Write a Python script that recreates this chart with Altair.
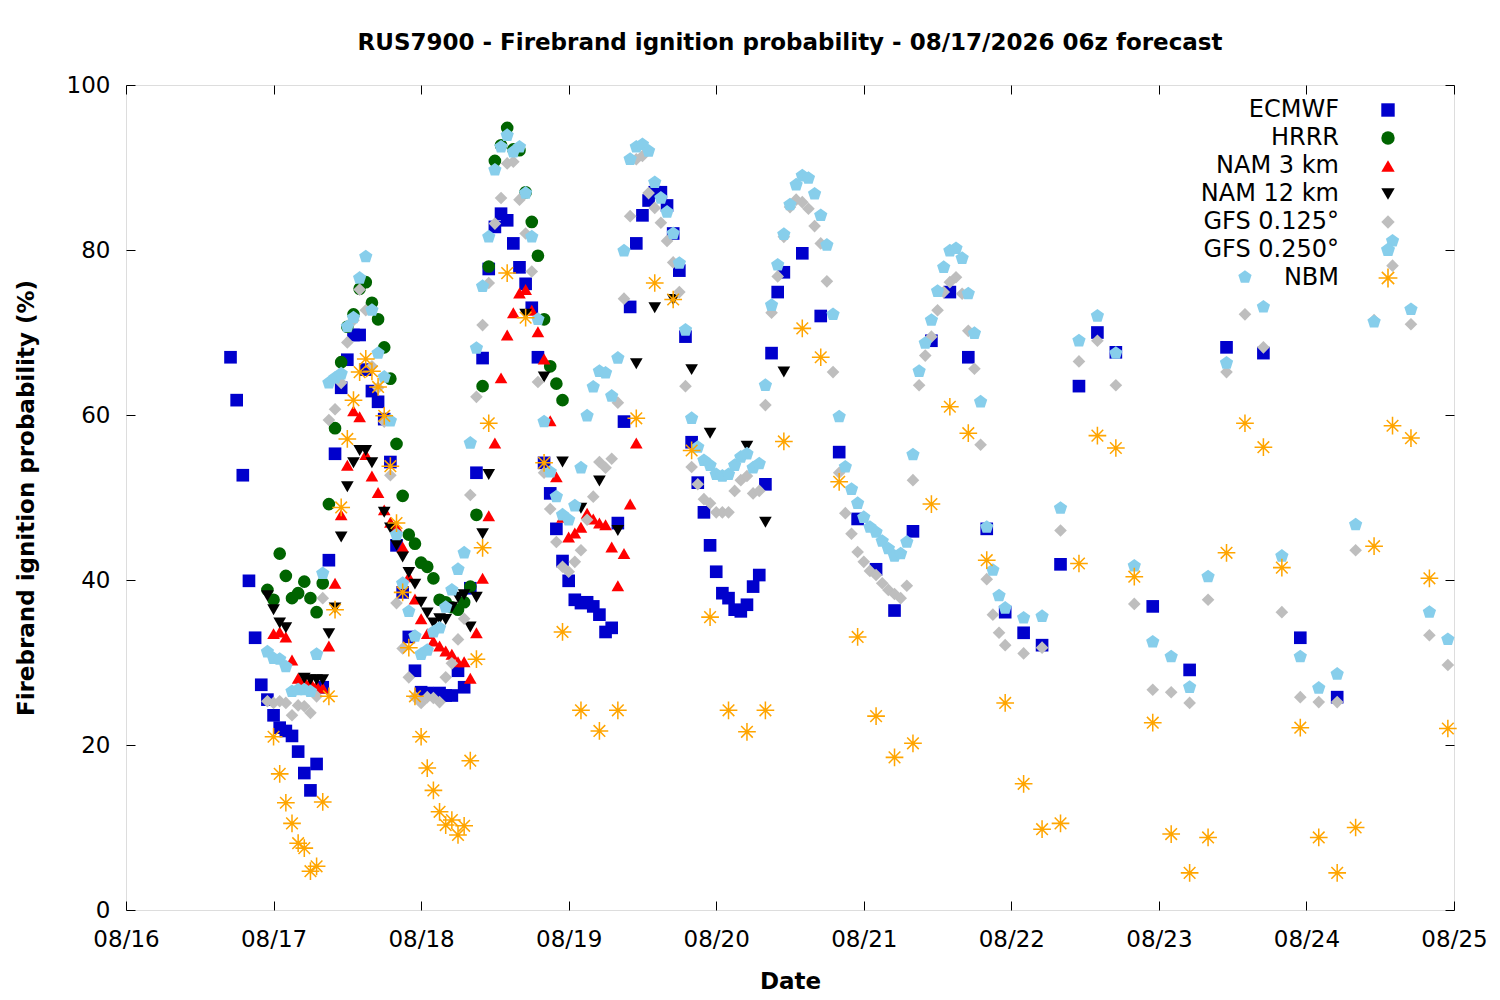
import altair as alt
import pandas as pd

# ---------------- data (hours since 08/16 00z) ----------------
models = ["ECMWF", "HRRR", "NAM 3 km", "NAM 12 km", "GFS 0.125°", "GFS 0.250°", "NBM"]
colors = ["#0000cc", "#006400", "#ff0000", "#000000", "#bebebe", "#87ceeb", "#ffa500"]
date_labels = ["08/16", "08/17", "08/18", "08/19", "08/20", "08/21", "08/22", "08/23", "08/24", "08/25"]

# ECMWF: hourly from h=17 to 107, 3-hourly 110-161, 6-hourly 167-197
ecmwf_hourly = [67.0, 61.8, 52.7, 39.9, 33.0, 27.3, 25.5, 23.6, 22.1, 21.7,
                21.1, 19.2, 16.6, 14.5, 17.7, 27.0, 42.4, 55.3, 63.3, 66.7,
                69.7, 69.7, 65.5, 62.9, 61.6, 59.5, 54.3, 44.2, 38.5, 33.1,
                29.0, 26.4, 26.3, 26.2, 26.3, 26.0, 26.0, 29.0, 27.0, 39.0,
                53.0, 66.9, 77.7, 82.8, 84.4, 83.6, 80.8, 77.9, 75.9, 73.0,
                67.0, 54.2, 50.5, 46.2, 42.3, 39.9, 37.6, 37.2, 37.3, 36.8,
                35.8, 33.7, 34.2, 46.9, 59.2, 73.1, 80.8, 84.2, 86.0, 87.0,
                87.0, 85.4, 82.0, 77.5, 69.5, 56.7, 51.8, 48.2, 44.2, 41.0,
                38.4, 37.8, 36.4, 36.2, 37.0, 39.2, 40.6, 51.6, 67.5, 74.9,
                77.3]
ecmwf_3h = [79.6, 72.0, 55.5, 47.4, 41.3, 36.3, 45.9, 69.0, 74.9, 67.0,
            46.2, 36.1, 33.6, 32.1, 41.9, 63.5, 70.0, 67.6]
ecmwf_6h = [36.8, 29.1, 68.2, 67.5, 33.0, 25.8]

# HRRR: hourly h=23..71
hrrr_hourly = [38.8, 37.6, 43.2, 40.5, 37.8, 38.4, 39.8, 37.8, 36.1, 39.6,
               49.2, 58.4, 66.4, 70.7, 72.2, 75.3, 76.1, 73.6, 71.6, 68.2,
               64.4, 56.5, 50.2, 45.5, 44.4, 42.1, 41.6, 40.2, 37.6, 37.3,
               36.7, 36.4, 37.3, 39.2, 47.9, 63.5, 78.0, 90.8, 92.7, 94.8,
               92.2, 92.1, 87.0, 83.4, 79.3, 71.6, 65.9, 63.8, 61.8]

# NAM 3 km: hourly h=24..83
nam3_hourly = [33.5, 33.7, 33.1, 30.3, 28.1, 27.8, 27.6, 27.2, 26.9, 32.0,
               39.6, 47.9, 53.9, 60.5, 59.8, 55.2, 52.6, 50.6, 48.5, 47.0,
               46.4, 44.0, 40.4, 37.7, 35.3, 33.5, 32.6, 32.0, 31.4, 31.0,
               30.1, 30.1, 28.1, 33.6, 40.2, 47.8, 56.6, 64.5, 69.7, 72.4,
               74.8, 75.2, 72.7, 70.1, 66.8, 59.3, 52.5, 47.6, 45.2, 45.7,
               46.4, 48.1, 47.4, 46.9, 46.7, 44.0, 39.3, 43.2, 49.2, 56.6]

# NAM 12 km: hourly h=23..59, 3-hourly h=62..107 (None = not plotted)
nam12_hourly = [38.1, 36.4, 34.8, 34.2, None, None, 28.1, 27.9, 27.9, 27.9,
                33.5, 36.6, 45.2, 51.3, 54.2, 55.7, 55.7, 54.2, None, 48.2,
                46.3, 44.2, 42.8, 40.9, 39.5, 37.3, 36.0, 34.8, 35.3, 35.2,
                36.7, 37.9, 38.2, 34.3, 37.9, 45.6, 52.8]
nam12_3h = [None, 72.2, 64.6, 54.3, 48.7, 52.0, 46.0, 66.2, 73.0, 74.0,
            65.5, 57.8, None, 56.2, 47.0, 65.2]

# GFS 0.125: hourly h=23..143, 3-hourly h=146..215
gfs125_hourly = [25.3, 25.1, 25.3, 25.1, 23.6, 24.8, 24.7, 23.9, 25.9, 37.8,
                 59.4, 60.7, 63.9, 68.8, 71.5, 75.2, 72.7, 65.9, 63.3, 59.2,
                 52.7, 37.2, 31.7, 28.2, 25.8, 25.1, 25.8, 25.7, 25.2, 28.2,
                 29.9, 32.8, 35.3, 50.3, 62.2, 70.9, 76.0, 83.2, 86.3, 90.5,
                 90.7, 86.1, 82.0, 77.4, 64.0, 53.0, 48.6, 44.6, 41.6, 41.0,
                 42.2, 43.6, 47.3, 50.1, 54.3, 53.6, 54.7, 61.5, 74.1, 84.1,
                 91.0, 91.4, 86.9, 85.1, 83.3, 81.1, 78.5, 74.9, 63.5, 53.7,
                 51.6, 49.8, 49.3, 48.2, 48.2, 48.2, 50.8, 52.1, 52.6, 50.5,
                 50.8, 61.2, 72.4, 76.8, 81.6, 85.2, 86.1, 85.8, 85.0, 82.9,
                 80.8, 76.2, 65.2, 53.0, 48.1, 45.6, 43.4, 42.2, 41.1, 40.6,
                 39.6, 38.8, 38.3, 37.8, 39.3, 52.1, 63.6, 67.2, 69.5, 72.7,
                 74.9, 76.1, 76.7, 74.7, 70.2, 65.6, 56.4, 40.1, 35.8, 33.6,
                 32.1]
gfs125_3h = [31.1, 31.8, 46.0, 66.5, 69.0, 63.6, 37.1, 26.7, 26.4, 25.1,
             37.6, 65.2, 72.2, 68.2, 36.1, 25.8, 25.2, 25.2, 43.6, 71.5,
             78.1, 71.0, 33.3, 29.7]

# GFS 0.250: hourly h=23..143, 3-hourly h=146..215
gfs250_hourly = [31.3, 30.5, 30.4, 29.5, 26.5, 26.7, 26.7, 26.5, 31.0, 40.8,
                 63.9, 64.5, 65.0, 70.7, 71.8, 76.6, 79.2, 72.7, 67.5, 64.6,
                 59.3, 45.5, 39.6, 36.2, 33.2, 31.0, 31.5, 33.7, 34.2, 36.7,
                 38.8, 41.3, 43.3, 56.6, 68.1, 75.6, 81.6, 89.7, 92.5, 93.9,
                 91.9, 92.5, 86.9, 81.6, 71.6, 59.2, 53.1, 50.1, 47.9, 47.3,
                 49.0, 53.6, 59.9, 63.4, 65.3, 65.1, 62.3, 66.9, 79.9, 91.0,
                 92.5, 92.8, 92.0, 88.2, 86.3, 84.6, 82.0, 78.4, 70.3, 59.6,
                 56.1, 54.5, 53.9, 52.8, 52.6, 52.8, 53.9, 54.9, 55.3, 53.6,
                 54.1, 63.6, 73.3, 78.2, 81.9, 85.5, 87.9, 89.0, 88.7, 86.8,
                 84.2, 80.6, 72.2, 59.8, 53.7, 51.0, 49.3, 47.6, 46.4, 45.8,
                 44.7, 43.8, 42.9, 43.2, 44.6, 55.2, 65.3, 68.7, 71.5, 75.0,
                 77.9, 79.9, 80.2, 79.0, 74.7, 69.9, 61.6, 46.4, 41.2, 38.1,
                 36.6]
gfs250_3h = [35.4, 35.6, 48.7, 69.0, 72.0, 67.5, 41.7, 32.5, 30.7, 27.0,
             40.4, 66.3, 76.7, 73.1, 42.9, 30.7, 26.9, 28.6, 46.7, 71.3,
             81.1, 72.8, 36.1, 32.8]

# NBM: hourly h=24..59, 3-hourly h=62..215
nbm_hourly = [21.0, 16.5, 13.0, 10.5, 8.1, 7.5, 4.7, 5.3, 13.1, 25.9,
              36.4, 48.8, 57.1, 61.8, 65.2, 66.8, 65.3, 63.4, 59.9, 53.8,
              46.9, 38.5, 31.8, 25.9, 21.0, 17.2, 14.5, 11.9, 10.3, 10.9,
              9.1, 10.2, 18.1, 30.4, 43.9, 59.0]
nbm_3h = [77.2, 71.8, 54.2, 33.7, 24.2, 21.7, 24.2, 59.6, 76.0, 74.0,
          55.7, 35.5, 24.2, 21.6, 24.2, 56.8, 70.5, 67.0, 51.9, 33.1,
          23.5, 18.5, 20.2, 49.2, 61.0, 57.8, 42.4, 25.1, 15.3, 9.8,
          10.5, 42.0, 57.5, 56.0, 40.4, 22.7, 9.2, 4.5, 8.8, 43.3,
          59.0, 56.1, 41.5, 22.1, 8.8, 4.5, 10.0, 44.1, 58.7, 57.2,
          40.2, 22.0]

# ---------------- table ----------------
rows = []


def add(model, start, step, vals):
    for i, v in enumerate(vals):
        if v is not None:
            rows.append({"model": model, "hour": start + i * step, "prob": v})


add("ECMWF", 17, 1, ecmwf_hourly)
add("ECMWF", 110, 3, ecmwf_3h)
add("ECMWF", 167, 6, ecmwf_6h)
add("HRRR", 23, 1, hrrr_hourly)
add("NAM 3 km", 24, 1, nam3_hourly)
add("NAM 12 km", 23, 1, nam12_hourly)
add("NAM 12 km", 62, 3, nam12_3h)
add("GFS 0.125°", 23, 1, gfs125_hourly)
add("GFS 0.125°", 146, 3, gfs125_3h)
add("GFS 0.250°", 23, 1, gfs250_hourly)
add("GFS 0.250°", 146, 3, gfs250_3h)
add("NBM", 24, 1, nbm_hourly)
add("NBM", 62, 3, nbm_3h)
df = pd.DataFrame(rows)

# ---------------- symbols ----------------
pentagon = "M0,-1.1L1.05,-0.34L0.65,0.89L-0.65,0.89L-1.05,-0.34Z"
asterisk = ("M-1.4,-0.12L1.4,-0.12L1.4,0.12L-1.4,0.12Z"
            "M0.12,-1.4L0.12,1.4L-0.12,1.4L-0.12,-1.4Z"
            "M-0.834,-1.004L1.004,0.834L0.834,1.004L-1.004,-0.834Z"
            "M-1.004,0.834L0.834,-1.004L1.004,-0.834L-0.834,1.004Z")
shapes = ["square", "circle", "triangle-up", "triangle-down", "diamond", pentagon, asterisk]

FONT = "DejaVu Sans"
W, H = 1328, 825
label_expr = "[" + ",".join("'%s'" % s for s in date_labels) + "][round(datum.value/24)]"

chart = alt.Chart(df).mark_point(filled=True, opacity=1, size=160, strokeWidth=0).encode(
    x=alt.X("hour:Q",
            scale=alt.Scale(domain=[0, 216], nice=False, zero=False),
            axis=alt.Axis(values=list(range(0, 217, 24)), labelExpr=label_expr,
                          title="Date", ticks=False, tickSize=0, domain=False,
                          grid=True, gridColor="black", gridWidth=1, gridOpacity=1,
                          gridDash=[9, H - 18, 9, 3000], labelFlush=False,
                          labelFont=FONT, labelFontSize=23, labelColor="black",
                          labelPadding=18, titleFont=FONT, titleFontSize=23,
                          titleFontWeight="bold", titleColor="black", titlePadding=19)),
    y=alt.Y("prob:Q",
            scale=alt.Scale(domain=[0, 100], nice=False),
            axis=alt.Axis(values=[0, 20, 40, 60, 80, 100], title="Firebrand ignition probability (%)",
                          ticks=False, tickSize=0, domain=False,
                          grid=True, gridColor="black", gridWidth=1, gridOpacity=1,
                          gridDash=[9, W - 18, 9, 3000], labelFlush=False,
                          labelFont=FONT, labelFontSize=23, labelColor="black",
                          labelPadding=16, titleFont=FONT, titleFontSize=23,
                          titleFontWeight="bold", titleColor="black", titlePadding=28)),
    color=alt.Color("model:N", scale=alt.Scale(domain=models, range=colors),
                    legend=alt.Legend(title=None, orient="none", legendX=1194, legendY=13,
                                      labelFont=FONT, labelFontSize=24, labelColor="black",
                                      labelAlign="right", labelOffset={"expr": "-61"},
                                      symbolOffset=56,
                                      symbolSize=180, symbolStrokeWidth=0, rowPadding=4,
                                      padding=0)),
    shape=alt.Shape("model:N", scale=alt.Scale(domain=models, range=shapes)),
    order=alt.Order("idx:Q"),
).transform_window(
    idx="row_number()"
).properties(
    width=W, height=H,
    title=alt.TitleParams(text="RUS7900 - Firebrand ignition probability - 08/17/2026 06z forecast",
                          font=FONT, fontSize=23, fontWeight="bold", color="black",
                          anchor="middle", offset=19),
    autosize=alt.AutoSizeParams(type="none"),
    padding={"left": 118, "top": 77, "right": 36, "bottom": 82},
).configure_view(stroke="black", strokeWidth=1.2).configure(background="white")

chart.save("out.html", embed_options={"renderer": "svg", "actions": False})
